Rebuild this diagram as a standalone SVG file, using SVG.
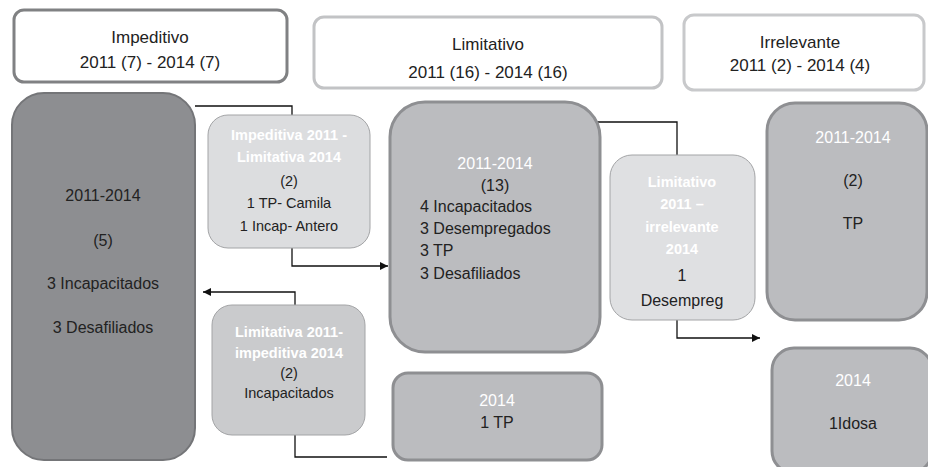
<svg xmlns="http://www.w3.org/2000/svg" width="928" height="467" viewBox="0 0 928 467">
<defs>
<marker id="arr" viewBox="0 0 10 10" refX="10" refY="5" markerWidth="10" markerHeight="8" markerUnits="userSpaceOnUse" orient="auto"><path d="M0,0 L10,5 L0,10 z" fill="#111"/></marker>
<style>
text{font-family:"Liberation Sans",Arial,sans-serif;fill:#222;text-anchor:middle}
.h{font-size:17px}
.t{font-size:16px}
.s{font-size:14.5px}
.w{fill:#fff}
.b{font-weight:bold}
.l{text-anchor:start}
.hdr{fill:#fff;stroke-width:3}
.dark{fill:#8d8e91;stroke:#747578;stroke-width:2}
.mid{fill:#bbbcbf;stroke:#8e8f92;stroke-width:3}
.lt{stroke:#a3a4a6;stroke-width:1}
.c{fill:none;stroke:#111;stroke-width:1.3}
</style>
</defs>
<g id="hdr-impeditivo">
<rect class="hdr" x="14" y="10" width="273" height="72" rx="10" stroke="#808183"/>
<text class="h" x="150" y="43">Impeditivo</text>
<text class="h" x="150" y="68">2011 (7) - 2014 (7)</text>
</g>
<g id="hdr-limitativo">
<rect class="hdr" x="314" y="17" width="348" height="71" rx="10" stroke="#c2c3c5"/>
<text class="h" x="488" y="50">Limitativo</text>
<text class="h" x="488" y="78">2011 (16) - 2014 (16)</text>
</g>
<g id="hdr-irrelevante">
<rect class="hdr" x="684" y="15" width="240" height="75" rx="10" stroke="#c8c9cb"/>
<text class="h" x="800" y="48">Irrelevante</text>
<text class="h" x="800" y="71">2011 (2) - 2014 (4)</text>
</g>
<g id="connectors">
<polyline class="c" points="195,106 292,106 292,115"/>
<polyline class="c" points="292,248 292,266 388,266" marker-end="url(#arr)"/>
<polyline class="c" points="295,305 295,292 203,292" marker-end="url(#arr)"/>
<polyline class="c" points="295,435 295,457 387,457"/>
<polyline class="c" points="593,122 677,122 677,155" stroke-width="1"/>
<polyline class="c" points="677,320 677,338 760,338" marker-end="url(#arr)"/>
</g>
<g id="imp-2011-2014">
<rect class="dark" x="12" y="93" width="183" height="367" rx="32"/>
<text class="t" x="103" y="201">2011-2014</text>
<text class="t" x="103" y="246">(5)</text>
<text class="t" x="103" y="289">3 Incapacitados</text>
<text class="t" x="103" y="333">3 Desafiliados</text>
</g>
<g id="imp-to-lim">
<rect class="lt" x="208" y="115" width="162" height="133" rx="20" fill="#dcdddf"/>
<text class="s w b" x="289" y="140">Impeditiva 2011 -</text>
<text class="s w b" x="289" y="162">Limitativa 2014</text>
<text class="s" x="289" y="186">(2)</text>
<text class="s" x="289" y="208">1 TP- Camila</text>
<text class="s" x="289" y="231">1 Incap- Antero</text>
</g>
<g id="lim-to-imp">
<rect class="lt" x="212" y="305" width="153" height="130" rx="20" fill="#cacbcd"/>
<text class="s w b" x="289" y="337">Limitativa 2011-</text>
<text class="s w b" x="289" y="358">impeditiva 2014</text>
<text class="s" x="289" y="378">(2)</text>
<text class="s" x="289" y="398">Incapacitados</text>
</g>
<g id="lim-2011-2014">
<rect class="mid" x="390" y="102" width="210" height="250" rx="35"/>
<text class="t w" x="495" y="169">2011-2014</text>
<text class="t" x="495" y="191">(13)</text>
<text class="t l" x="420" y="212">4 Incapacitados</text>
<text class="t l" x="420" y="234">3 Desempregados</text>
<text class="t l" x="420" y="256">3 TP</text>
<text class="t l" x="420" y="279">3 Desafiliados</text>
</g>
<g id="lim-2014">
<rect class="mid" x="393" y="373" width="209" height="87" rx="15"/>
<text class="t w" x="497" y="406">2014</text>
<text class="t" x="497" y="428">1 TP</text>
</g>
<g id="lim-to-irr">
<rect class="lt" x="610" y="155" width="145" height="165" rx="22" fill="#dfe0e2"/>
<text class="s w b" x="682" y="187">Limitativo</text>
<text class="s w b" x="682" y="209">2011 –</text>
<text class="s w b" x="682" y="232">irrelevante</text>
<text class="s w b" x="682" y="254">2014</text>
<text class="t" x="682" y="281">1</text>
<text class="t" x="682" y="306">Desempreg</text>
</g>
<g id="irr-2011-2014">
<rect class="mid" x="767" y="103" width="160" height="217" rx="28"/>
<text class="t w" x="853" y="143">2011-2014</text>
<text class="t" x="853" y="186">(2)</text>
<text class="t" x="853" y="229">TP</text>
</g>
<g id="irr-2014">
<rect class="mid" x="772" y="348" width="160" height="125" rx="22"/>
<text class="t w" x="853" y="386">2014</text>
<text class="t" x="853" y="429">1Idosa</text>
</g>
</svg>
